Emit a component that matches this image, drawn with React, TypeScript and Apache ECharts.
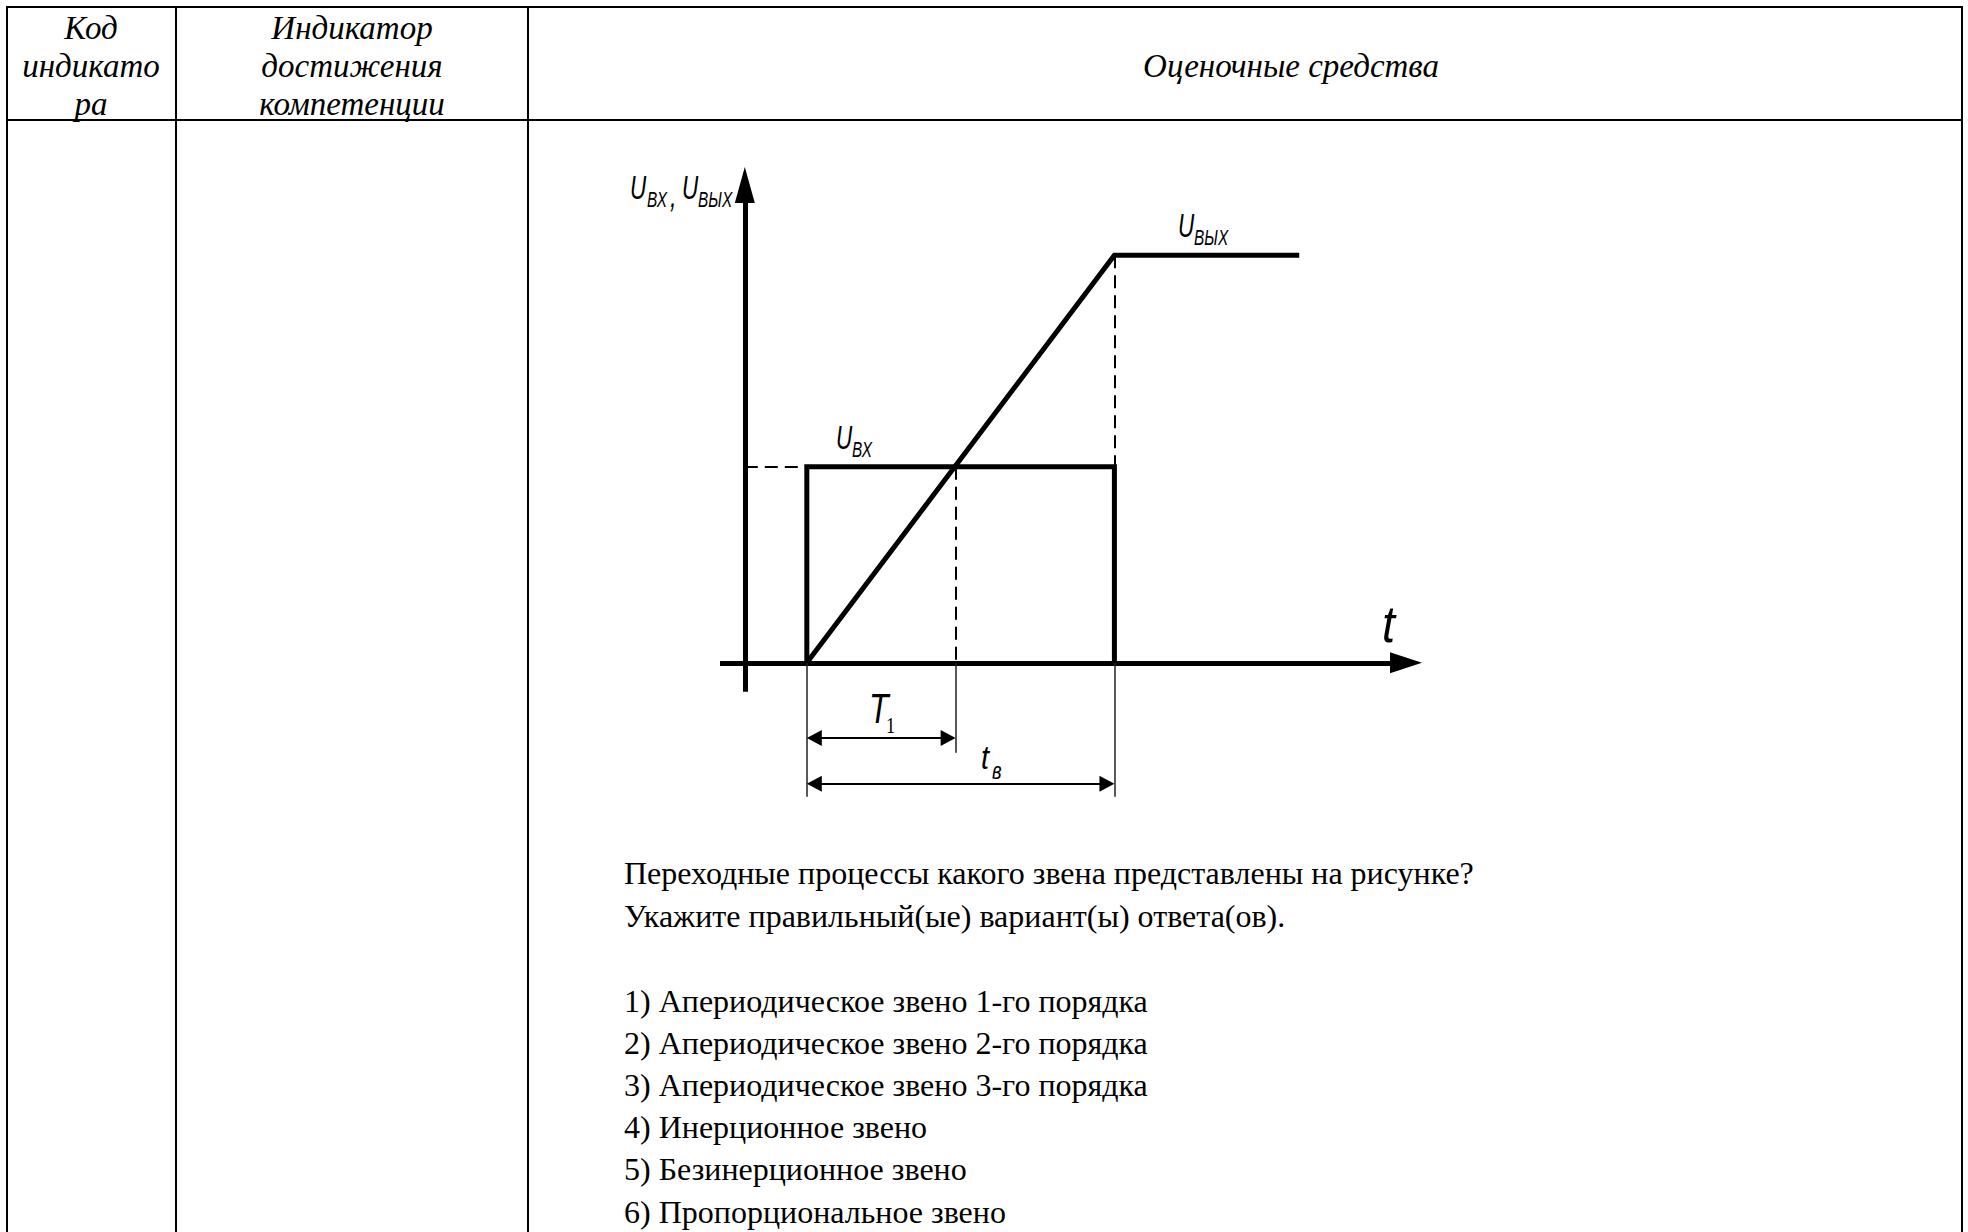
import React, { useEffect, useRef } from "react";
import * as echarts from "echarts";

const PAGE_W = 1968;
const PAGE_H = 1232;

// Table header and body text
const headCode = ["Код", "индикато", "ра"];
const headIndicator = ["Индикатор", "достижения", "компетенции"];
const headTools = "Оценочные средства";
const questionLines = [
  "Переходные процессы какого звена представлены на рисунке?",
  "Укажите правильный(ые) вариант(ы) ответа(ов).",
];
const answerOptions = [
  "1) Апериодическое звено 1-го порядка",
  "2) Апериодическое звено 2-го порядка",
  "3) Апериодическое звено 3-го порядка",
  "4) Инерционное звено",
  "5) Безинерционное звено",
  "6) Пропорциональное звено",
];

// Transient response: input step U_вх and output ramp U_вых (t, U)
const inputT = [0.5, 0.5, 2.98, 2.98];
const inputU = [0, 1, 1, 0];
const outputT = [0.5, 2.98, 4.47];
const outputU = [0, 2.08, 2.08];
const tStart = 0.5; // step applied
const tT1 = 1.7; // output reaches input level: T1 interval ends
const tEnd = 2.98; // step removed: t_в interval ends
const uIn = 1;
const uOutMax = 2.08;

// Axis extents of the plot
const axisT = [-0.2, 5.46];
const axisU = [-0.7, 2.53];
const uAxisLow = -0.148; // vertical axis reaches slightly below zero
const extLong = -0.684; // extension lines under the time axis
const extT1 = -0.459;
const dimT1 = -0.383; // T1 dimension line level
const dimTv = -0.617; // t_в dimension line level

// plot area in pixels
const GRID = { left: 720, top: 167, width: 702, height: 633 };

const pts = (ts: number[], us: number[]) => ts.map((t, i) => [t, us[i]]);

function buildOption() {
  const pxT = GRID.width / (axisT[1] - axisT[0]);
  const pxU = GRID.height / (axisU[1] - axisU[0]);
  const xArrowLen = 32;
  const yArrowLen = 36;
  const dimArrowLen = 15;
  const inset = dimArrowLen / 2 / pxT;

  const helper = (name: string, lineStyle: any, data: any[], z = 3) => ({
    name,
    type: "line",
    data: [],
    silent: true,
    z,
    clip: false,
    markLine: {
      silent: true,
      animation: false,
      symbol: ["none", "none"],
      label: { show: false },
      emphasis: { disabled: true },
      lineStyle,
      itemStyle: { color: lineStyle.color },
      data,
    },
  });

  const tri = (w: number, h: number) => ({ symbol: "triangle", symbolSize: [w, h] });

  const axes = helper("axes", { color: "#000", width: 5, type: "solid" }, [
    [
      { coord: [axisT[0], 0], symbol: "none" },
      { coord: [axisT[1] - xArrowLen / 2 / pxT, 0], ...tri(21, xArrowLen) },
    ],
    [
      { coord: [0, uAxisLow], symbol: "none" },
      { coord: [0, axisU[1] - yArrowLen / 2 / pxU], ...tri(20, yArrowLen) },
    ],
  ]);

  const guides = helper("guides", { color: "#000", width: 2, type: [13, 7] }, [
    [{ coord: [0, uIn] }, { coord: [tStart, uIn] }],
    [{ coord: [tT1, uIn] }, { coord: [tT1, 0] }],
    [{ coord: [tEnd, uOutMax] }, { coord: [tEnd, uIn] }],
  ]);

  const extensions = helper("extensions", { color: "#222", width: 1.5, type: "solid" }, [
    [{ coord: [tStart, 0] }, { coord: [tStart, extLong] }],
    [{ coord: [tT1, 0] }, { coord: [tT1, extT1] }],
    [{ coord: [tEnd, 0] }, { coord: [tEnd, extLong] }],
  ]);

  const dims = helper("dimensions", { color: "#000", width: 2, type: "solid" }, [
    [
      { coord: [tStart + inset, dimT1], ...tri(16, dimArrowLen) },
      { coord: [tT1 - inset, dimT1], ...tri(16, dimArrowLen) },
    ],
    [
      { coord: [tStart + inset, dimTv], ...tri(16, dimArrowLen) },
      { coord: [tEnd - inset, dimTv], ...tri(16, dimArrowLen) },
    ],
  ]);

  const curve = (name: string, data: number[][]) => ({
    name,
    type: "line",
    data,
    symbol: "none",
    silent: true,
    clip: false,
    z: 4,
    lineStyle: { color: "#000", width: 5, join: "miter", cap: "butt" },
  });

  // text helper
  const txt = (x: number, y: number, text: string, font: string, align = "left", sx = 1) => ({
    type: "text",
    x,
    y,
    scaleX: sx,
    silent: true,
    z: 10,
    style: {
      text,
      font,
      fill: "#000",
      textAlign: align,
      textVerticalAlign: "middle",
      align,
      verticalAlign: "middle",
    },
  });

  const SERIF = '"Liberation Serif", "Times New Roman", serif';
  const SANS = '"Liberation Sans", Arial, sans-serif';
  const headFont = `italic 33px ${SERIF}`;
  const bodyFont = `32px ${SERIF}`;
  const mainF = `italic 34px ${SANS}`;
  const subF = `italic 22px ${SANS}`;

  const line = (x1: number, y1: number, x2: number, y2: number, w = 2) => ({
    type: "line",
    silent: true,
    z: 1,
    shape: { x1, y1, x2, y2 },
    style: { stroke: "#000", lineWidth: w },
  });

  const headRows = [28, 66, 104];
  const bodyRows = [873, 915.5, 1001, 1042.5, 1085, 1126.5, 1169, 1212];

  const graphics: any[] = [
    // table rules
    line(6, 7, 1963, 7),
    line(6, 120, 1963, 120),
    line(7, 6, 7, PAGE_H),
    line(176, 6, 176, PAGE_H),
    line(528, 6, 528, PAGE_H),
    line(1962, 6, 1962, PAGE_H),
    ...headCode.map((s, i) => txt(91, headRows[i], s, headFont, "center")),
    ...headIndicator.map((s, i) => txt(352, headRows[i], s, headFont, "center")),
    txt(1291, 66, headTools, headFont, "center"),
    ...[...questionLines, ...answerOptions].map((s, i) => txt(624, bodyRows[i], s, bodyFont)),

    // diagram labels
    txt(630, 187, "U", mainF, "left", 0.66),
    txt(647, 199, "ВХ", subF, "left", 0.7),
    txt(670, 195, ",", mainF, "left", 0.7),
    txt(682, 187, "U", mainF, "left", 0.66),
    txt(698, 199, "ВЫХ", subF, "left", 0.7),

    txt(1178, 225, "U", mainF, "left", 0.66),
    txt(1194, 237, "ВЫХ", subF, "left", 0.7),

    txt(836, 437, "U", mainF, "left", 0.66),
    txt(852, 449, "ВХ", subF, "left", 0.7),

    txt(1382, 624, "t", `italic 52px ${SANS}`, "left", 0.9),

    txt(869, 708, "T", `italic 42px ${SANS}`, "left", 0.76),
    txt(886, 725, "1", `23px ${SERIF}`, "left", 0.8),

    txt(981, 757, "t", `italic 34px ${SANS}`, "left", 0.85),
    txt(992, 771, "в", `italic 23px ${SANS}`, "left", 0.8),
  ];

  return {
    animation: false,
    backgroundColor: "#fff",
    grid: { ...GRID, containLabel: false },
    xAxis: {
      type: "value",
      min: axisT[0],
      max: axisT[1],
      show: false,
    },
    yAxis: {
      type: "value",
      min: axisU[0],
      max: axisU[1],
      show: false,
    },
    tooltip: { show: false },
    series: [
      axes,
      guides,
      extensions,
      dims,
      curve("U_вх", pts(inputT, inputU)),
      curve("U_вых", pts(outputT, outputU)),
    ],
    graphic: { elements: graphics },
  };
}

export default function App() {
  const ref = useRef<HTMLDivElement>(null);
  useEffect(() => {
    if (!ref.current) return;
    document.body.style.margin = "0";
    const chart = echarts.init(ref.current, null, { renderer: "svg" });
    chart.setOption(buildOption() as any);
    return () => chart.dispose();
  }, []);
  return (
    <div
      ref={ref}
      style={{ position: "relative", width: PAGE_W, height: PAGE_H, background: "#fff" }}
    />
  );
}
